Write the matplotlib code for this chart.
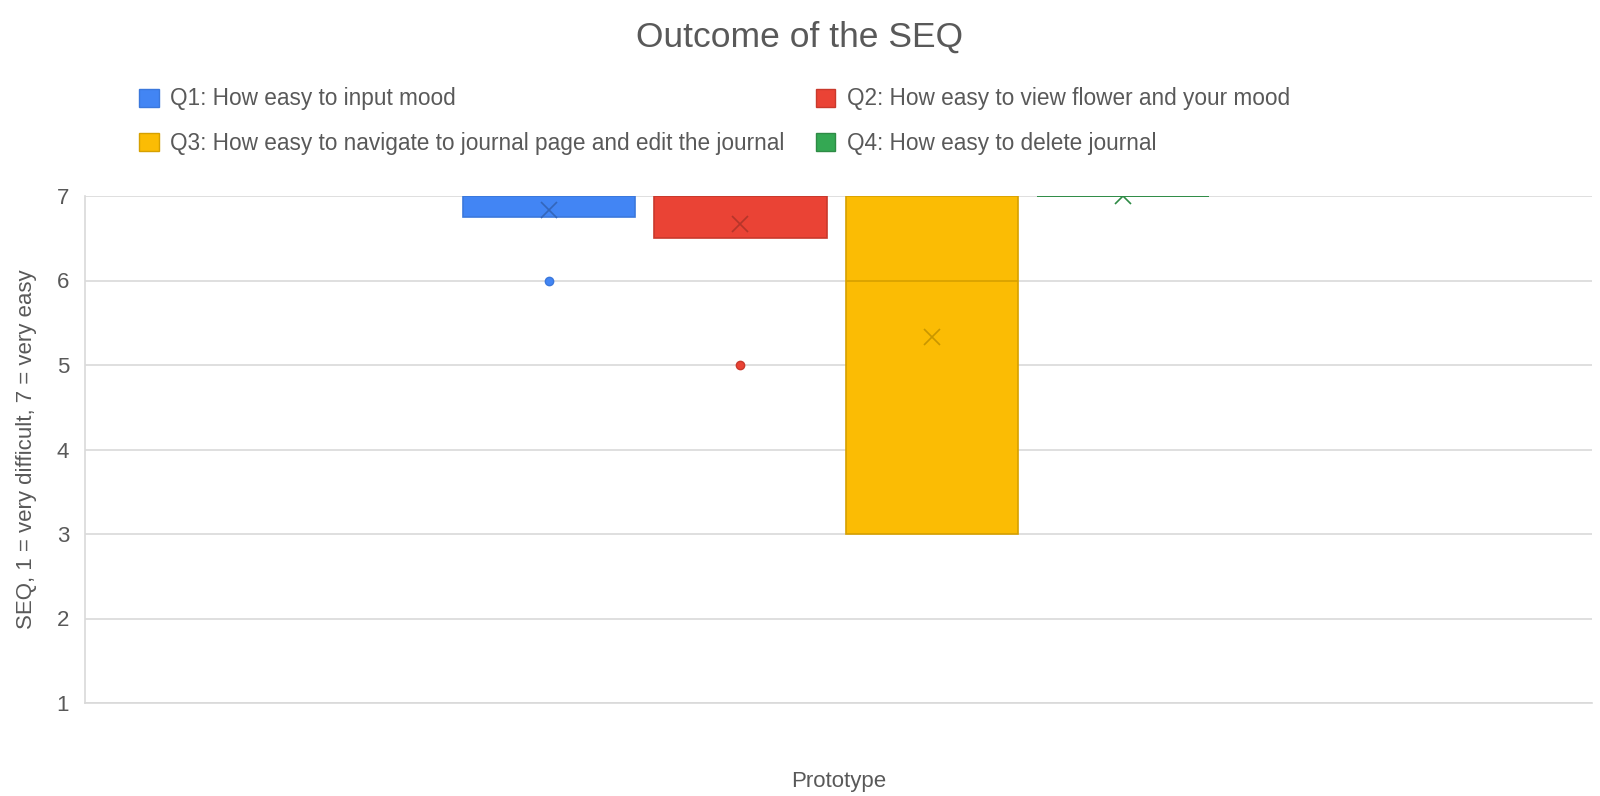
import matplotlib
matplotlib.use('Agg')
import matplotlib.pyplot as plt
from matplotlib.patches import Patch

plt.rcParams['font.family'] = ['Liberation Sans', 'DejaVu Sans']

# Box-plot summary per question (Excel style: box = quartiles, x = mean)
labels = [
    'Q1: How easy to input mood',
    'Q2: How easy to view flower and your mood',
    'Q3: How easy to navigate to journal page and edit the journal',
    'Q4: How easy to delete journal',
]
q_low = [6.75, 6.5, 3.0, 7.0]
q_med = [7.0, 7.0, 6.0, 7.0]
q_high = [7.0, 7.0, 7.0, 7.0]
q_mean = [6.83, 6.67, 5.33, 7.0]
outliers = [[6], [5], [], []]

fills = ['#4285F4', '#EA4335', '#FBBC04', '#34A853']
edges = ['#3B78DC', '#C9392C', '#D6A000', '#2E8B45']
mean_colors = ['#3366BB', '#B5352A', '#C89600', '#2E8B45']

TEXT = '#595959'
GRID = '#D9D9D9'

fig = plt.figure(figsize=(16, 7.96), dpi=100)
ax = fig.add_axes([85 / 1600, 1 - 703 / 796, (1592 - 85) / 1600, (703 - 196) / 796])

positions = [1, 2, 3, 4]
for i, pos in enumerate(positions):
    stats = [dict(med=q_med[i], q1=q_low[i], q3=q_high[i],
                  whislo=q_low[i], whishi=q_high[i],
                  mean=q_mean[i], fliers=outliers[i])]
    ax.bxp(stats, positions=[pos], widths=0.9, patch_artist=True,
           showmeans=True, showcaps=False,
           boxprops=dict(facecolor=fills[i], edgecolor=edges[i], linewidth=1.2),
           medianprops=dict(color=edges[i], linewidth=1.2),
           whiskerprops=dict(color=edges[i], linewidth=0),
           meanprops=dict(marker='x', markeredgecolor=mean_colors[i],
                          markersize=12, markeredgewidth=1.2),
           flierprops=dict(marker='o', markerfacecolor=fills[i],
                           markeredgecolor=edges[i], markersize=6))

ax.set_xlim(-1.425, 6.45)
ax.set_ylim(1, 7)
ax.set_yticks(range(1, 8))
ax.set_xticks([])
ax.yaxis.grid(True, color=GRID, linewidth=1.2)
ax.set_axisbelow(True)
for s in ['top', 'right']:
    ax.spines[s].set_visible(False)
for s in ['left', 'bottom']:
    ax.spines[s].set_color(GRID)
    ax.spines[s].set_linewidth(1.2)
ax.tick_params(axis='y', length=0, labelsize=16, labelcolor=TEXT, pad=11.5)

ax.set_ylabel('SEQ, 1 = very difficult, 7 = very easy', fontsize=16, color=TEXT)
ax.yaxis.set_label_coords(-0.032, 0.5)
ax.set_xlabel('Prototype', fontsize=16, color=TEXT)
ax.xaxis.set_label_coords(0.5, -0.135)

fig.text(0.5, 1 - 37 / 796, 'Outcome of the SEQ', ha='center', va='center',
         fontsize=25.5, color=TEXT)

handles = [Patch(facecolor=f, edgecolor=e, label=l)
           for f, e, l in zip(fills, edges, labels)]
# order so rows are Q1,Q2 / Q3,Q4 with ncol=2
order = [0, 2, 1, 3]
fig.legend([handles[i] for i in order], [labels[i] for i in order],
           ncol=2, loc='upper left', bbox_to_anchor=(119 / 1600, 1 - 67 / 796),
           frameon=False, fontsize=16.3, labelcolor=TEXT,
           handlelength=0.85, handleheight=0.85, handletextpad=0.5,
           columnspacing=1.4, labelspacing=0.95)

fig.savefig('out.png', dpi=100)
